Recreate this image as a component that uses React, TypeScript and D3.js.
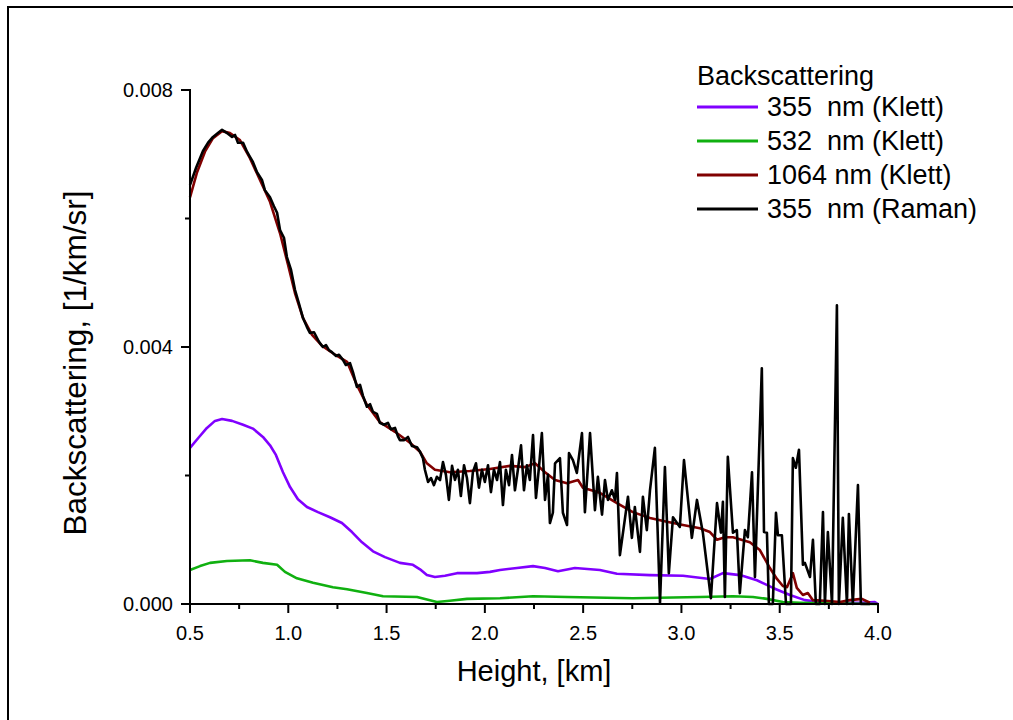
import React from 'react';
import * as d3 from 'd3';

// ---------- data ----------
const xMajorTicks = [0.5, 1.0, 1.5, 2.0, 2.5, 3.0, 3.5, 4.0];
const xMinorTicks = [0.75, 1.25, 1.75, 2.25, 2.75, 3.25, 3.75];
const yMajorTicks = [0, 0.004, 0.008];
const yMinorTicks = [0.002, 0.006];

const xTitle = 'Height, [km]';
const yTitle = 'Backscattering, [1/km/sr]';
const legendTitle = 'Backscattering';
const seriesNames = ['355  nm (Klett)', '532  nm (Klett)', '1064 nm (Klett)', '355  nm (Raman)'];
const seriesColors = ['#8000ff', '#10b010', '#800000', '#000000'];

// [height km, backscatter 1/km/sr]
const klett355: [number, number][] = [
  [0.5, 0.00243], [0.541, 0.00258], [0.586, 0.00274], [0.627, 0.00285], [0.663, 0.00288],
  [0.714, 0.00285], [0.77, 0.00279], [0.82, 0.00273], [0.871, 0.0026], [0.907, 0.00247],
  [0.937, 0.00232], [0.973, 0.00205], [1.009, 0.00182], [1.049, 0.00163], [1.095, 0.00151],
  [1.151, 0.00143], [1.212, 0.00135], [1.273, 0.00126], [1.324, 0.00112], [1.375, 0.00096],
  [1.431, 0.00082], [1.492, 0.00073], [1.568, 0.00064], [1.634, 0.00061], [1.67, 0.00054],
  [1.705, 0.00045], [1.746, 0.00042], [1.797, 0.00044], [1.858, 0.00048], [1.909, 0.00048],
  [1.96, 0.00048], [2.026, 0.0005], [2.077, 0.00053], [2.163, 0.00056], [2.245, 0.00059],
  [2.306, 0.00056], [2.372, 0.00051], [2.458, 0.00056], [2.585, 0.00053], [2.672, 0.00047],
  [2.84, 0.00045], [3.008, 0.00044], [3.145, 0.00039], [3.211, 0.00048], [3.298, 0.00045],
  [3.384, 0.00037], [3.466, 0.00025], [3.552, 0.00014], [3.628, 0.00006], [3.704, 0.00003],
  [3.806, 0.00002], [3.908, 0.00002], [3.984, 0.00003], [4.0, 0],
];

const klett532: [number, number][] = [
  [0.5, 0.00053], [0.551, 0.00059], [0.602, 0.00064], [0.688, 0.00067], [0.805, 0.00068],
  [0.871, 0.00064], [0.943, 0.00061], [0.983, 0.0005], [1.044, 0.0004], [1.126, 0.00033],
  [1.227, 0.00026], [1.299, 0.00023], [1.4, 0.00017], [1.482, 0.00012], [1.655, 0.00011],
  [1.756, 0.00003], [1.822, 0.00005], [1.909, 0.00008], [2.077, 0.00009], [2.245, 0.00012],
  [2.418, 0.00011], [2.753, 0.00009], [3.094, 0.00011], [3.262, 0.00012], [3.364, 0.00011],
  [3.435, 0.00008], [3.516, 0.00003], [3.603, 0.00002], [3.995, 0],
];

const klett1064: [number, number][] = [
  [0.5, 0.00633], [0.536, 0.00672], [0.576, 0.00704], [0.617, 0.00725], [0.663, 0.00736],
  [0.703, 0.00733], [0.754, 0.00722], [0.805, 0.00694], [0.856, 0.0066], [0.907, 0.00626],
  [0.958, 0.00577], [0.998, 0.00529], [1.034, 0.00484], [1.075, 0.00445], [1.121, 0.00419],
  [1.171, 0.00402], [1.238, 0.00388], [1.299, 0.00377], [1.349, 0.00341], [1.4, 0.0031],
  [1.466, 0.00283], [1.543, 0.00268], [1.619, 0.00251], [1.67, 0.00237], [1.705, 0.00219],
  [1.746, 0.00209], [1.822, 0.00205], [1.924, 0.00207], [2.026, 0.0021], [2.128, 0.00215],
  [2.204, 0.00213], [2.255, 0.00219], [2.306, 0.00205], [2.357, 0.00193], [2.418, 0.00188],
  [2.474, 0.00193], [2.499, 0.00181], [2.585, 0.00173], [2.672, 0.00157], [2.753, 0.00143],
  [2.84, 0.00134], [2.926, 0.00128], [3.008, 0.00123], [3.094, 0.00118], [3.145, 0.00112],
  [3.181, 0.001], [3.221, 0.00104], [3.262, 0.00104], [3.348, 0.00096], [3.399, 0.00084],
  [3.45, 0.00056], [3.486, 0.00039], [3.516, 0.00028], [3.537, 0.00026], [3.567, 0.00048],
  [3.587, 0.00025], [3.618, 0.00014], [3.643, 0.00017], [3.669, 0.00006], [3.73, 0.00005],
  [3.806, 0.00003], [3.857, 0.00006], [3.918, 0.00008], [3.959, 0.00002],
];

const raman355: [number, number][] = [
  [0.5, 0.00652], [0.531, 0.00679], [0.566, 0.00705], [0.592, 0.00718], [0.617, 0.00727],
  [0.642, 0.00733], [0.663, 0.00738], [0.693, 0.00732], [0.714, 0.00727], [0.729, 0.0073],
  [0.744, 0.00718], [0.77, 0.00718], [0.79, 0.00704], [0.805, 0.00696], [0.82, 0.00688],
  [0.841, 0.00672], [0.866, 0.0066], [0.881, 0.00644], [0.907, 0.00633], [0.927, 0.00619],
  [0.943, 0.00609], [0.958, 0.00582], [0.978, 0.0057], [0.993, 0.0054], [1.014, 0.0052],
  [1.034, 0.00489], [1.054, 0.00468], [1.075, 0.00445], [1.095, 0.00431], [1.11, 0.00422],
  [1.131, 0.00423], [1.151, 0.00411], [1.161, 0.00406], [1.176, 0.004], [1.192, 0.00403],
  [1.207, 0.00395], [1.222, 0.00392], [1.243, 0.00386], [1.258, 0.00388], [1.278, 0.0038],
  [1.293, 0.00372], [1.314, 0.00375], [1.329, 0.00361], [1.349, 0.00338], [1.365, 0.00341],
  [1.38, 0.00324], [1.4, 0.00307], [1.416, 0.00311], [1.431, 0.00299], [1.451, 0.00296],
  [1.466, 0.00282], [1.487, 0.00279], [1.507, 0.00282], [1.522, 0.00272], [1.543, 0.00274],
  [1.558, 0.00261], [1.568, 0.00255], [1.588, 0.00255], [1.609, 0.0026], [1.629, 0.00246],
  [1.655, 0.00244], [1.67, 0.00237], [1.685, 0.00227], [1.695, 0.00209], [1.711, 0.0019],
  [1.726, 0.00196], [1.741, 0.00185], [1.756, 0.00198], [1.772, 0.00193], [1.787, 0.00221],
  [1.802, 0.00201], [1.817, 0.00162], [1.833, 0.00215], [1.848, 0.00193], [1.863, 0.00209],
  [1.878, 0.00168], [1.894, 0.00216], [1.909, 0.00196], [1.924, 0.00157], [1.939, 0.00205],
  [1.955, 0.00219], [1.97, 0.00181], [1.985, 0.00209], [2.0, 0.0019], [2.016, 0.00216],
  [2.031, 0.00174], [2.046, 0.00209], [2.062, 0.00193], [2.077, 0.00221], [2.092, 0.00154],
  [2.107, 0.00209], [2.123, 0.00185], [2.138, 0.00232], [2.153, 0.00177], [2.168, 0.00209],
  [2.184, 0.00247], [2.199, 0.00177], [2.214, 0.00216], [2.229, 0.00193], [2.245, 0.00263],
  [2.26, 0.00165], [2.275, 0.00212], [2.29, 0.00266], [2.306, 0.00162], [2.321, 0.00201],
  [2.331, 0.00126], [2.346, 0.00142], [2.357, 0.00219], [2.382, 0.00227], [2.397, 0.00142],
  [2.418, 0.00123], [2.428, 0.00235], [2.448, 0.00224], [2.468, 0.00204], [2.494, 0.00266],
  [2.509, 0.00143], [2.535, 0.00266], [2.56, 0.00146], [2.575, 0.00198], [2.596, 0.00139],
  [2.611, 0.00193], [2.626, 0.00162], [2.646, 0.00177], [2.662, 0.00162], [2.672, 0.00204],
  [2.687, 0.00076], [2.728, 0.00167], [2.748, 0.00103], [2.763, 0.00151], [2.789, 0.00081],
  [2.804, 0.00167], [2.824, 0.00115], [2.84, 0.00177], [2.865, 0.00243], [2.891, 0.00002],
  [2.916, 0.00213], [2.936, 0.00048], [2.957, 0.00135], [2.992, 0.0012], [3.013, 0.00224],
  [3.053, 0.00103], [3.079, 0.00162], [3.109, 0.00111], [3.15, 0.00009], [3.181, 0.00157],
  [3.201, 0.00111], [3.211, 0.00159], [3.221, 0.00011], [3.236, 0.00229], [3.262, 0.00111],
  [3.282, 0.00115], [3.297, 0.00017], [3.323, 0.00115], [3.338, 0.00104], [3.359, 0.00205],
  [3.374, 0.00042], [3.409, 0.00367], [3.42, 0.00112], [3.435, 0.00111], [3.445, 0],
  [3.465, 0], [3.481, 0.00142], [3.491, 0.00107], [3.511, 0.00107], [3.532, 0],
  [3.557, 0], [3.567, 0.00227], [3.582, 0.00212], [3.598, 0.0024], [3.618, 0.00061],
  [3.628, 0.00064], [3.654, 0.00042], [3.669, 0.001], [3.684, 0], [3.704, 0],
  [3.72, 0.00143], [3.73, 0], [3.745, 0.00112], [3.766, 0], [3.791, 0.00465],
  [3.801, 0], [3.821, 0.00134], [3.842, 0], [3.852, 0.0014], [3.872, 0],
  [3.898, 0.00185], [3.913, 0], [3.959, 0],
];

const seriesData = [klett355, klett532, klett1064, raman355];

// ---------- chart ----------
const FONT = "'Liberation Sans', Arial, Helvetica, sans-serif";

export default function App() {
  const x = d3.scaleLinear().domain([0.5, 4.0]).range([190, 878]);
  const y = d3.scaleLinear().domain([0, 0.008]).range([604, 90]);
  const line = d3
    .line<[number, number]>()
    .x((d) => x(d[0]))
    .y((d) => y(d[1]));

  const legendX = 697;
  const legendY0 = 107;
  const legendStep = 34;

  return (
    <svg
      width={1013}
      height={720}
      style={{ position: 'absolute', left: 0, top: 0, background: '#fff' }}
      fontFamily={FONT}
    >
      <rect x={0} y={0} width={1013} height={720} fill="#fff" />
      {/* outer frame */}
      <rect x={8} y={7} width={1020} height={730} fill="none" stroke="#000" strokeWidth={2} />

      {/* series */}
      {seriesData.map((s, i) => (
        <path
          key={i}
          d={line(s) || ''}
          fill="none"
          stroke={seriesColors[i]}
          strokeWidth={2.6}
          strokeLinejoin="round"
        />
      ))}

      {/* axes */}
      <line x1={190} y1={89} x2={190} y2={605} stroke="#000" strokeWidth={2} />
      <line x1={189} y1={604} x2={879} y2={604} stroke="#000" strokeWidth={2} />

      {xMajorTicks.map((t) => (
        <g key={'xm' + t}>
          <line x1={x(t)} x2={x(t)} y1={604} y2={613} stroke="#000" strokeWidth={2} />
          <text x={x(t)} y={640} fontSize={20} textAnchor="middle">
            {t.toFixed(1)}
          </text>
        </g>
      ))}
      {xMinorTicks.map((t) => (
        <line key={'xn' + t} x1={x(t)} x2={x(t)} y1={604} y2={609} stroke="#000" strokeWidth={2} />
      ))}
      {yMajorTicks.map((t) => (
        <g key={'ym' + t}>
          <line x1={181} x2={190} y1={y(t)} y2={y(t)} stroke="#000" strokeWidth={2} />
          <text x={173} y={y(t) + 7} fontSize={20} textAnchor="end">
            {t.toFixed(3)}
          </text>
        </g>
      ))}
      {yMinorTicks.map((t) => (
        <line key={'yn' + t} x1={185} x2={190} y1={y(t)} y2={y(t)} stroke="#000" strokeWidth={2} />
      ))}

      {/* axis titles */}
      <text x={534} y={681} fontSize={29} textAnchor="middle">
        {xTitle}
      </text>
      <text
        transform={`translate(${86},${363}) rotate(-90)`}
        fontSize={31.5}
        textAnchor="middle"
      >
        {yTitle}
      </text>

      {/* legend */}
      <text x={legendX} y={85} fontSize={27}>
        {legendTitle}
      </text>
      {seriesNames.map((name, i) => (
        <g key={name}>
          <line
            x1={legendX}
            x2={legendX + 61}
            y1={legendY0 + i * legendStep}
            y2={legendY0 + i * legendStep}
            stroke={seriesColors[i]}
            strokeWidth={3}
          />
          <text
            x={legendX + 70}
            y={legendY0 + i * legendStep + 9}
            fontSize={27}
            style={{ whiteSpace: 'pre' }}
          >
            {name}
          </text>
        </g>
      ))}
    </svg>
  );
}
